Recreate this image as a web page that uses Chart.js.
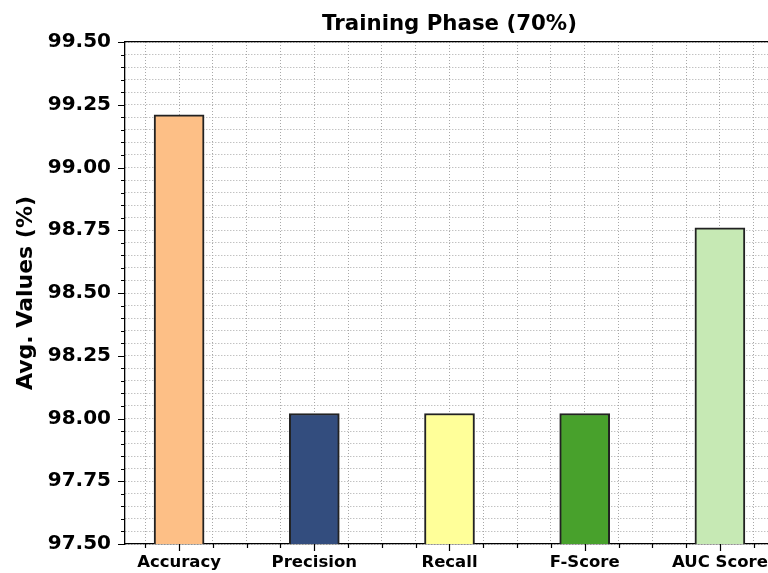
<!DOCTYPE html>
<html>
<head>
<meta charset="utf-8">
<title>Training Phase (70%)</title>
<script src="https://cdn.jsdelivr.net/npm/chart.js@4.4.1/dist/chart.umd.min.js"></script>
<style>
    html, body { margin: 0; padding: 0; background: #ffffff; overflow: hidden; }
    #phase_chart { display: block; }
</style>
</head>
<body>
<canvas id="phase_chart" width="800" height="573"></canvas>
<script>
// metric names along the x axis, one bar each
const metric_labels = ["Accuracy", "Precision", "Recall", "F-Score", "AUC Score"];
// averaged scores (%)
const avg_values = [99.21, 98.02, 98.02, 98.02, 98.76];
const bar_colors = ["#fdbf86", "#334d7e", "#ffff99", "#48a12c", "#c6e9b4"];

const y_min = 97.5;
const y_max = 99.5;
const y_major_step = 0.25;
const y_minor_step = 0.05;
const x_minor_step = 0.25;

const is_multiple = (v, step) => Math.abs(v / step - Math.round(v / step)) < 1e-6;

const bar_points = metric_labels.map((name, i) => ({ x: i, y: avg_values[i] }));

const font_family = "'DejaVu Sans', 'Liberation Sans', sans-serif";

// short marks for minor ticks, longer for major ones
const tick_marks = {
    id: "tick_marks",
    afterDraw(chart) {
        const { ctx, chartArea, scales: { x, y } } = chart;
        ctx.save();
        ctx.strokeStyle = "#000000";
        ctx.lineWidth = 1.2;
        ctx.beginPath();
        y.ticks.forEach(t => {
            const py = Math.round(y.getPixelForValue(t.value)) + 0.5;
            const len = is_multiple(t.value - y_min, y_major_step) ? 7 : 4;
            ctx.moveTo(chartArea.left, py);
            ctx.lineTo(chartArea.left - len, py);
        });
        x.ticks.forEach(t => {
            const px = Math.round(x.getPixelForValue(t.value)) + 0.5;
            const len = is_multiple(t.value, 1) ? 7 : 4;
            ctx.moveTo(px, chartArea.bottom);
            ctx.lineTo(px, chartArea.bottom + len);
        });
        ctx.stroke();
        ctx.restore();
    }
};

const phase_chart = new Chart("phase_chart",
{
    type: "bar",
    data:
    {
        datasets:
        [
            {
                label: "Avg. Values (%)",
                data: bar_points,
                backgroundColor: bar_colors,
                borderColor: "#222222",
                borderWidth: 2,
                barThickness: 50,
                xAxisID: "x",
                yAxisID: "y"
            }
        ]
    },
    options:
    {
        responsive: false,
        animation: false,
        devicePixelRatio: 1,
        layout: { padding: 0 },
        plugins:
        {
            legend: { display: false },
            title: { display: false },
            tooltip: { enabled: false }
        },
        scales:
        {
            x:
            {
                type: "linear",
                position: "bottom",
                min: -0.4,
                max: 4.4,
                offset: false,
                afterFit: s => { s.height = 29; },
                ticks:
                {
                    stepSize: x_minor_step,
                    includeBounds: false,
                    autoSkip: false,
                    maxRotation: 0,
                    padding: 9,
                    color: "#000000",
                    font: { family: font_family, size: 16.5, weight: "bold" },
                    callback: v => is_multiple(v, 1) ? metric_labels[Math.round(v)] : ""
                },
                grid: { color: "#a8a8a8", lineWidth: 1, drawTicks: false, offset: false },
                border: { display: true, color: "#000000", width: 1.3, dash: [1, 2] }
            },
            x2:
            {
                type: "linear",
                position: "top",
                afterFit: s => { s.height = 42; },
                ticks: { display: false },
                grid: { display: false },
                border: { display: true, color: "#000000", width: 1.3 },
                title:
                {
                    display: true,
                    text: "Training Phase (70%)",
                    color: "#000000",
                    font: { family: font_family, size: 21.3, weight: "bold" },
                    padding: { top: 12, bottom: 0 }
                }
            },
            y:
            {
                type: "linear",
                position: "left",
                min: y_min,
                max: y_max,
                afterFit: s => { s.width = 125; },
                ticks:
                {
                    stepSize: y_minor_step,
                    autoSkip: false,
                    padding: 14,
                    color: "#000000",
                    font: { family: font_family, size: 20, weight: "bold" },
                    callback: v => is_multiple(v - y_min, y_major_step) ? v.toFixed(2) : ""
                },
                grid: { color: "#a8a8a8", lineWidth: 1, drawTicks: false },
                border: { display: true, color: "#000000", width: 1.3, dash: [1, 2] },
                title:
                {
                    display: true,
                    text: "Avg. Values (%)",
                    color: "#000000",
                    font: { family: font_family, size: 22, weight: "bold" },
                    padding: { top: 13, bottom: 0 }
                }
            },
            y2:
            {
                type: "linear",
                position: "right",
                afterFit: s => { s.width = 26; },
                ticks: { display: false },
                grid: { display: false },
                border: { display: true, color: "#000000", width: 1.3 }
            }
        }
    },
    plugins: [tick_marks]
});
</script>
</body>
</html>
